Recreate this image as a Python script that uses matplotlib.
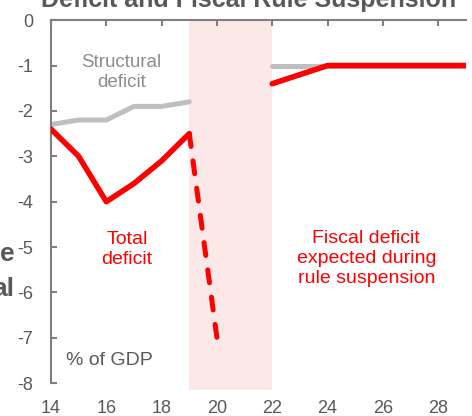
import matplotlib.pyplot as plt

plt.rcParams['font.family'] = ['Liberation Sans', 'DejaVu Sans']

# data (% of GDP)
struct_years = [14, 15, 16, 17, 18, 19]
struct_vals = [-2.3, -2.2, -2.2, -1.9, -1.9, -1.8]
struct_years2 = [22, 23, 24, 25, 26, 27, 28, 29]
struct_vals2 = [-1.0, -1.0, -1.0, -1.0, -1.0, -1.0, -1.0, -1.0]

total_years = [14, 15, 16, 17, 18, 19]
total_vals = [-2.4, -3.0, -4.0, -3.6, -3.1, -2.5]
crisis_years = [19, 20]
crisis_vals = [-2.5, -7.0]
after_years = [22, 23, 24, 25, 26, 27, 28, 29]
after_vals = [-1.4, -1.2, -1.0, -1.0, -1.0, -1.0, -1.0, -1.0]

suspension = (19, 22)
xticks = [14, 16, 18, 20, 22, 24, 26, 28]
yticks = [0, -1, -2, -3, -4, -5, -6, -7, -8]

RED = '#FF0000'
GREY = '#BFBFBF'
DARK = '#595959'

fig = plt.figure(figsize=(4.72, 4.16), dpi=100)
ax = fig.add_axes([0.108, 0.0625, 0.879, 0.889])

ax.axvspan(suspension[0], suspension[1], color='#FDE8E8', lw=0, zorder=0)

ax.plot(struct_years, struct_vals, color=GREY, lw=3.6, solid_capstyle='round', zorder=2)
ax.plot(struct_years2, struct_vals2, color=GREY, lw=3.6, solid_capstyle='round', zorder=2)
ax.plot(total_years, total_vals, color=RED, lw=4.0, solid_capstyle='round', zorder=3)
ax.plot(crisis_years, crisis_vals, color=RED, lw=3.6, dashes=(2.6, 2.9),
        dash_capstyle='round', zorder=3)
ax.plot(after_years, after_vals, color=RED, lw=4.0, solid_capstyle='round', zorder=3)

ax.text(16.55, -1.15, 'Structural\ndeficit', color='#8C8C8C', fontsize=13.5,
        ha='center', va='center', linespacing=1.25)
ax.text(16.75, -5.05, 'Total\ndeficit', color=RED, fontsize=14,
        ha='center', va='center', linespacing=1.25)
ax.text(25.4, -5.25, 'Fiscal deficit\nexpected during\nrule suspension', color=RED,
        fontsize=14, ha='center', va='center', linespacing=1.25)
ax.text(14.55, -7.5, '% of GDP', color=DARK, fontsize=14, ha='left', va='center')

ax.set_xlim(14, 29)
ax.set_ylim(-8.15, 0)
ax.set_xticks(xticks)
ax.set_yticks(yticks)
ax.set_yticklabels([str(v) for v in yticks])

for s in ['right', 'bottom']:
    ax.spines[s].set_visible(False)
ax.spines['left'].set_bounds(-8, 0)
ax.spines['left'].set_color('#7F7F7F')
ax.spines['top'].set_color('#7F7F7F')
ax.spines['left'].set_linewidth(1.5)
ax.spines['top'].set_linewidth(1.5)

ax.tick_params(axis='x', top=True, bottom=False, labeltop=False, labelbottom=True,
               direction='in', length=4, width=1.5, color='#7F7F7F',
               labelsize=13, labelcolor=DARK, pad=7)
ax.tick_params(axis='y', direction='in', length=4, width=1.5, color='#7F7F7F',
               labelsize=13, labelcolor=DARK, pad=13)

fig.text(0.526, 0.982, 'Deficit and Fiscal Rule Suspension', fontsize=18,
         fontweight='bold', color=DARK, ha='center', va='baseline')
# fragments of the neighbouring panel cut off at the left edge
fig.text(0.03, 0.39, 'e', fontsize=19, fontweight='bold', color=DARK, ha='right', va='center')
fig.text(0.03, 0.305, 'al', fontsize=19, fontweight='bold', color=DARK, ha='right', va='center')

fig.savefig('out.png', dpi=100)
